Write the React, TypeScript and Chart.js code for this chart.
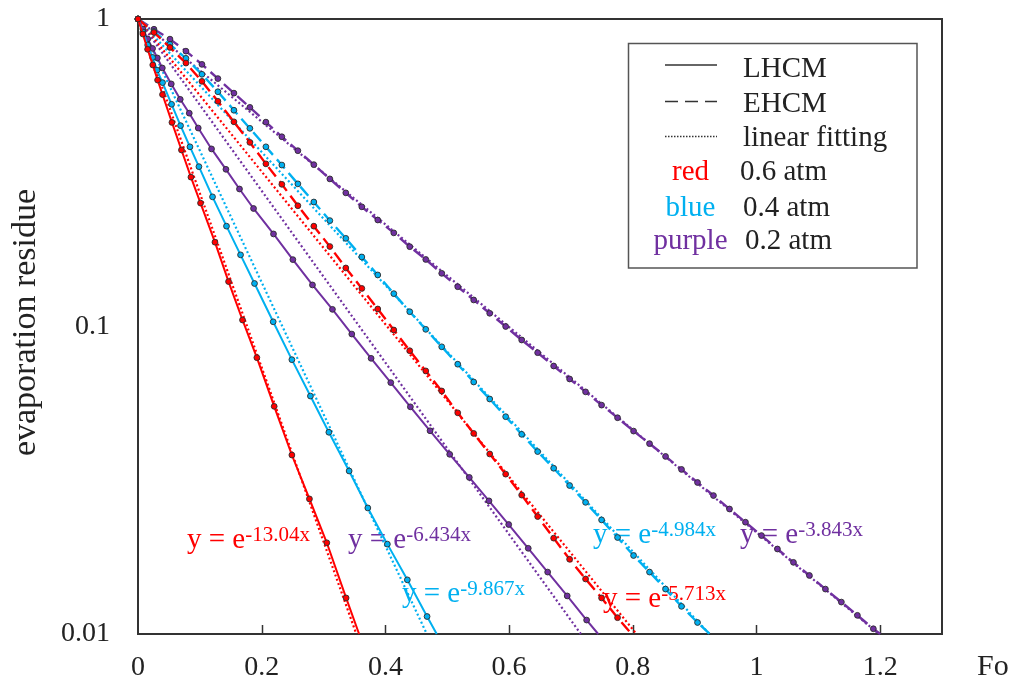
import React, { useEffect, useRef } from 'react';
import { Chart, registerables } from 'chart.js';

Chart.register(...registerables);

const RED = '#FF0000';
const BLUE = '#00B0F0';
const PURPLE = '#7030A0';
const INK = '#222222';
const FONT = '"Liberation Serif", "Times New Roman", serif';

// ---------- data (Fo vs evaporation residue) ----------
// LHCM 0.6 atm (red, solid) – last point is where the curve meets 0.01
const lhcmFo06 = [0, 0.0078, 0.0155, 0.0239, 0.0317, 0.0396, 0.0549, 0.0703, 0.0856, 0.1011, 0.1244, 0.1464, 0.169, 0.1922, 0.2202, 0.2488, 0.2772, 0.3053, 0.3365, 0.3575];
const lhcmRes06 = [1, 0.894, 0.797, 0.709, 0.633, 0.568, 0.461, 0.375, 0.306, 0.252, 0.188, 0.14, 0.105, 0.0792, 0.055, 0.0382, 0.0275, 0.0198, 0.0131, 0.01];

// LHCM 0.4 atm (blue, solid)
const lhcmFo04 = [0, 0.0079, 0.0157, 0.0236, 0.0307, 0.0397, 0.0543, 0.0688, 0.084, 0.0985, 0.1205, 0.1431, 0.1658, 0.1884, 0.2186, 0.2488, 0.2788, 0.3086, 0.3414, 0.3716, 0.4032, 0.4355, 0.4674, 0.483];
const lhcmRes04 = [1, 0.907, 0.823, 0.75, 0.682, 0.621, 0.528, 0.45, 0.384, 0.331, 0.264, 0.212, 0.171, 0.138, 0.1036, 0.078, 0.0594, 0.0453, 0.0339, 0.0257, 0.0196, 0.015, 0.0114, 0.01];

// LHCM 0.2 atm (purple, solid)
const lhcmFo02 = [0, 0.0079, 0.0157, 0.0236, 0.0313, 0.0393, 0.0538, 0.0683, 0.0829, 0.0974, 0.1189, 0.1422, 0.1641, 0.1868, 0.2191, 0.2504, 0.2821, 0.3144, 0.3457, 0.3769, 0.4087, 0.4404, 0.4722, 0.504, 0.5357, 0.5675, 0.5994, 0.631, 0.6624, 0.694, 0.7254, 0.7441];
const lhcmRes02 = [1, 0.928, 0.861, 0.802, 0.747, 0.693, 0.615, 0.548, 0.494, 0.442, 0.378, 0.3245, 0.28, 0.242, 0.2, 0.165, 0.1365, 0.1137, 0.0945, 0.0788, 0.0657, 0.0548, 0.0458, 0.0384, 0.0323, 0.0271, 0.0227, 0.019, 0.0159, 0.0133, 0.0111, 0.01];

// EHCM: common Fo grid of the marked points
const ehcmFo = [0, 0.0258, 0.0517, 0.0775, 0.1034, 0.1292, 0.1551, 0.1809, 0.2068, 0.2326, 0.2585, 0.2843, 0.3102, 0.336, 0.3619, 0.3877, 0.4136, 0.4394, 0.4653, 0.4911, 0.517, 0.5428, 0.5687, 0.5945, 0.6204, 0.6462, 0.6721, 0.6979, 0.7237, 0.7496, 0.7754, 0.8013, 0.8271, 0.853, 0.8788, 0.9047, 0.9305, 0.9564, 0.9822, 1.0081, 1.0339, 1.0598, 1.0856, 1.1115, 1.1373, 1.1632, 1.189];

// EHCM 0.6 atm (red, dashed)
const ehcmRes06 = [1, 0.904, 0.808, 0.719, 0.627, 0.54, 0.463, 0.397, 0.338, 0.29, 0.247, 0.212, 0.182, 0.155, 0.133, 0.114, 0.0974, 0.0834, 0.0717, 0.0617, 0.0524, 0.0449, 0.0385, 0.0331, 0.0283, 0.0241, 0.0205, 0.0175, 0.0151, 0.0131, 0.0113];
// EHCM 0.4 atm (blue, dashed)
const ehcmRes04 = [1, 0.911, 0.827, 0.745, 0.661, 0.58, 0.505, 0.441, 0.384, 0.335, 0.291, 0.254, 0.221, 0.1935, 0.1683, 0.1471, 0.1279, 0.1117, 0.0979, 0.0859, 0.0754, 0.066, 0.0581, 0.0509, 0.0446, 0.0392, 0.0346, 0.0304, 0.0268, 0.0235, 0.0206, 0.018, 0.0159, 0.014, 0.0123, 0.0109];
// EHCM 0.2 atm (purple, dashed)
const ehcmRes02 = [1, 0.926, 0.86, 0.786, 0.712, 0.64, 0.574, 0.516, 0.462, 0.414, 0.373, 0.336, 0.302, 0.272, 0.245, 0.222, 0.2016, 0.1818, 0.1652, 0.1489, 0.1347, 0.122, 0.1104, 0.1, 0.0904, 0.0822, 0.0744, 0.0675, 0.0613, 0.0555, 0.0505, 0.0457, 0.0416, 0.0378, 0.0343, 0.0311, 0.0282, 0.0255, 0.0231, 0.0209, 0.0189, 0.0171, 0.0155, 0.014, 0.0127, 0.0115, 0.0104];
// Fo where each EHCM curve reaches 0.01 (order: 0.6, 0.4, 0.2 atm)
const ehcmEndFo = [0.798, 0.9246, 1.2];

// linear fittings y = e^(-k x): coefficients and Fo where each fit line meets 0.01
const fitLabels = ['0.6 LHCM', '0.4 LHCM', '0.2 LHCM', '0.6 EHCM', '0.4 EHCM', '0.2 EHCM'];
const fitK = ['13.04', '9.867', '6.434', '5.713', '4.984', '3.843'];
const fitEndFo = [0.353, 0.467, 0.716, 0.806, 0.924, 1.198];

// axis ticks
const xTickStep = 0.2;
const yTickValues = [0.01, 0.1, 1];

// legend entries
const legendStyles = ['LHCM', 'EHCM', 'linear fitting'];
const legendColorNames = ['red', 'blue', 'purple'];
const legendPressures = ['0.6 atm', '0.4 atm', '0.2 atm'];

// ---------- styling / layout ----------
const fitColors = [RED, BLUE, PURPLE, RED, BLUE, PURPLE];
const eqPos = [
  [187, 548],
  [402, 602],
  [348, 548],
  [603, 607],
  [593, 543],
  [740, 543],
];

function curveData(xs: number[], ys: number[]) {
  return xs.map((x, i) => ({ x, y: ys[i] }));
}

function ehcmData(res: number[], endFo: number) {
  const pts = res.map((y, i) => ({ x: ehcmFo[i], y }));
  pts.push({ x: endFo, y: 0.01 });
  return pts;
}

function curveDataset(label: string, data: { x: number; y: number }[], color: string, dashed: boolean) {
  const last = data.length - 1;
  return {
    label,
    data,
    showLine: true,
    borderColor: color,
    borderWidth: dashed ? 2.4 : 2,
    borderDash: dashed ? [12, 6] : [],
    backgroundColor: color,
    pointBackgroundColor: color,
    pointBorderColor: '#2b2b2b',
    pointBorderWidth: 0.9,
    pointRadius: data.map((_, i) => (i === last ? 0 : 2.9)),
    clip: false as const,
  };
}

const overlay = {
  id: 'overlay',
  beforeDatasetsDraw(chart: any) {
    const { ctx, chartArea: a, scales } = chart;
    ctx.save();
    // equations of the linear fittings (under the lines)
    fitK.forEach((k, i) => {
      const [x, b] = eqPos[i];
      ctx.fillStyle = fitColors[i];
      ctx.textAlign = 'left';
      ctx.textBaseline = 'alphabetic';
      ctx.font = `29px ${FONT}`;
      ctx.fillText('y = e', x, b);
      const w = ctx.measureText('y = e').width;
      ctx.font = `21px ${FONT}`;
      ctx.fillText(`-${k}x`, x + w, b - 7);
    });
    // frame
    ctx.strokeStyle = '#333';
    ctx.lineWidth = 2;
    ctx.strokeRect(a.left, a.top, a.right - a.left, a.bottom - a.top);
    // inward x tick marks
    ctx.lineWidth = 1.5;
    scales.x.ticks.forEach((t: any) => {
      if (t.value <= 0) return;
      const px = Math.round(scales.x.getPixelForValue(t.value)) + 0.5;
      ctx.beginPath();
      ctx.moveTo(px, a.bottom);
      ctx.lineTo(px, a.bottom - 9);
      ctx.stroke();
    });
    ctx.restore();
  },
  afterDatasetsDraw(chart: any) {
    const { ctx, chartArea: a } = chart;
    ctx.save();
    // legend box
    ctx.fillStyle = '#fff';
    ctx.fillRect(628.5, 43.5, 288.5, 224.5);
    ctx.strokeStyle = '#555';
    ctx.lineWidth = 1.5;
    ctx.strokeRect(628.5, 43.5, 288.5, 224.5);
    const sampleY = [65, 101.5, 136.5];
    const dashes = [[], [13, 7], [1.5, 1.5]];
    sampleY.forEach((y, i) => {
      ctx.beginPath();
      ctx.setLineDash(dashes[i]);
      ctx.strokeStyle = '#333';
      ctx.lineWidth = i === 2 ? 1.5 : 1.6;
      ctx.moveTo(665, y);
      ctx.lineTo(717, y);
      ctx.stroke();
    });
    ctx.setLineDash([]);
    ctx.font = `29px ${FONT}`;
    ctx.textBaseline = 'alphabetic';
    ctx.fillStyle = INK;
    ctx.textAlign = 'left';
    const styleBase = [76.5, 111.5, 146];
    legendStyles.forEach((s, i) => ctx.fillText(s, 743, styleBase[i]));
    const colorBase = [179.5, 215.5, 249];
    const colorVals = [RED, BLUE, PURPLE];
    const pressX = [740, 743, 745];
    legendColorNames.forEach((n, i) => {
      ctx.textAlign = 'center';
      ctx.fillStyle = colorVals[i];
      ctx.fillText(n, 690.5, colorBase[i]);
      ctx.textAlign = 'left';
      ctx.fillStyle = INK;
      ctx.fillText(legendPressures[i], pressX[i], colorBase[i]);
    });
    // axis titles
    ctx.fillStyle = INK;
    ctx.font = `30px ${FONT}`;
    ctx.textAlign = 'left';
    ctx.fillText('Fo', 977, 675);
    ctx.translate(35, (a.top + a.bottom) / 2 - 4);
    ctx.rotate(-Math.PI / 2);
    ctx.font = `34px ${FONT}`;
    ctx.textAlign = 'center';
    ctx.fillText('evaporation residue', 0, 0);
    ctx.restore();
  },
};

function zeroPad(s: any) {
  s.paddingTop = 0;
  s.paddingBottom = 0;
  s.paddingLeft = 0;
  s.paddingRight = 0;
}

export default function App() {
  const ref = useRef<HTMLCanvasElement | null>(null);

  useEffect(() => {
    if (!ref.current) return;
    const datasets: any[] = [
      curveDataset('LHCM 0.6 atm', curveData(lhcmFo06, lhcmRes06), RED, false),
      curveDataset('LHCM 0.4 atm', curveData(lhcmFo04, lhcmRes04), BLUE, false),
      curveDataset('LHCM 0.2 atm', curveData(lhcmFo02, lhcmRes02), PURPLE, false),
      curveDataset('EHCM 0.6 atm', ehcmData(ehcmRes06, ehcmEndFo[0]), RED, true),
      curveDataset('EHCM 0.4 atm', ehcmData(ehcmRes04, ehcmEndFo[1]), BLUE, true),
      curveDataset('EHCM 0.2 atm', ehcmData(ehcmRes02, ehcmEndFo[2]), PURPLE, true),
    ];
    fitEndFo.forEach((end, i) => {
      datasets.push({
        label: `fit ${fitLabels[i]}`,
        data: [
          { x: 0, y: 1 },
          { x: end, y: 0.01 },
        ],
        showLine: true,
        borderColor: fitColors[i],
        borderWidth: 2.2,
        borderDash: [2, 2.5],
        pointRadius: 0,
        clip: false,
      });
    });

    const tickFont = { family: FONT, size: 28 };
    const chart = new Chart(ref.current, {
      type: 'scatter',
      data: { datasets },
      options: {
        responsive: false,
        animation: false,
        devicePixelRatio: 1,
        events: [],
        layout: { padding: { top: 19, right: 79, left: 0, bottom: 0 } },
        plugins: { legend: { display: false }, tooltip: { enabled: false } },
        scales: {
          x: {
            type: 'linear',
            min: 0,
            max: 1.3,
            afterFit: (s: any) => {
              s.height = 52;
              zeroPad(s);
            },
            grid: { display: false, drawTicks: false },
            border: { display: false },
            ticks: {
              stepSize: xTickStep,
              includeBounds: false,
              padding: 17,
              color: INK,
              font: tickFont,
              maxRotation: 0,
              autoSkip: false,
              callback: (v: any) => String(Number(Number(v).toFixed(1))),
            },
          },
          y: {
            type: 'logarithmic',
            min: 0.01,
            max: 1,
            afterFit: (s: any) => {
              s.width = 138;
              zeroPad(s);
            },
            afterBuildTicks: (s: any) => {
              s.ticks = yTickValues.map((v) => ({ value: v }));
            },
            grid: { display: false, drawTicks: false },
            border: { display: false },
            ticks: {
              padding: 28,
              color: INK,
              font: tickFont,
              autoSkip: false,
              callback: (v: any) => String(v),
            },
          },
        },
      },
      plugins: [overlay],
    } as any);
    return () => chart.destroy();
  }, []);

  return (
    <div style={{ position: 'absolute', left: 0, top: 0, width: 1021, height: 686, background: '#fff' }}>
      <canvas ref={ref} width={1021} height={686} style={{ display: 'block' }} />
    </div>
  );
}
